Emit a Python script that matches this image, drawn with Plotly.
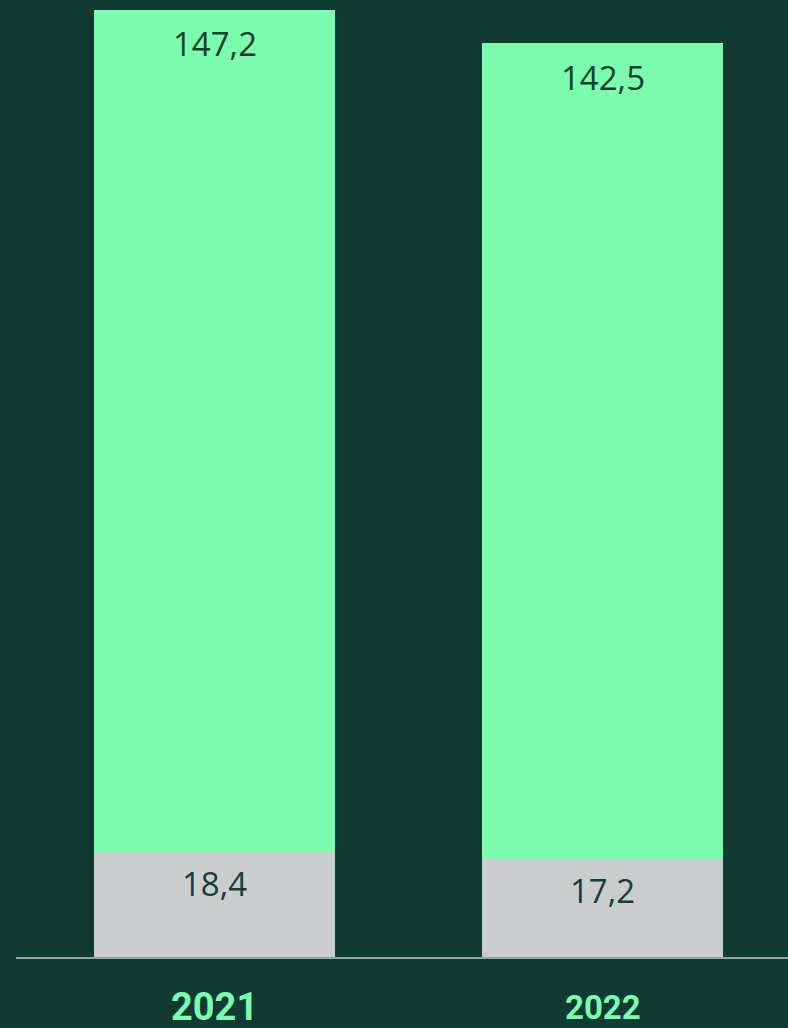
import plotly.graph_objects as go

years = ["2021", "2022"]
bottom_vals = [18.4, 17.2]
top_vals = [147.2, 142.5]
bottom_labels = ["18,4", "17,2"]
top_labels = ["147,2", "142,5"]
year_font_sizes = [38, 33]

BG = "#113a32"
GREEN = "#7afbae"
GREY = "#c9cdce"
TEXT = "#143d35"

fig = go.Figure()
fig.add_trace(go.Bar(x=years, y=bottom_vals, marker=dict(color=GREY, line=dict(width=0)),
                     width=0.62, hoverinfo="skip"))
fig.add_trace(go.Bar(x=years, y=top_vals, marker=dict(color=GREEN, line=dict(width=0)),
                     width=0.62, hoverinfo="skip"))

for i, yr in enumerate(years):
    fig.add_annotation(x=i, y=bottom_vals[i], xref="x", yref="y", text=bottom_labels[i],
                       showarrow=False, yanchor="middle", yshift=-32,
                       font=dict(family="Liberation Sans Narrow, Open Sans, sans-serif", size=33, color=TEXT))
    fig.add_annotation(x=i, y=bottom_vals[i] + top_vals[i], xref="x", yref="y", text=top_labels[i],
                       showarrow=False, yanchor="middle", yshift=-34,
                       font=dict(family="Open Sans, sans-serif", size=33, color=TEXT))
    fig.add_annotation(x=i, y=0, xref="x", yref="y", text="<b>" + yr + "</b>",
                       showarrow=False, yanchor="middle", yshift=-50,
                       font=dict(family="Liberation Sans Narrow, Roboto, sans-serif",
                                 size=year_font_sizes[i], color=GREEN))

fig.update_layout(
    barmode="stack",
    width=788, height=1028,
    paper_bgcolor=BG, plot_bgcolor=BG,
    margin=dict(l=16, r=0, t=0, b=71),
    showlegend=False,
    xaxis=dict(type="category", range=[-0.5116, 1.4781], showticklabels=False, showgrid=False,
               zeroline=False, showline=True, linecolor="#93a29e", linewidth=2, fixedrange=True),
    yaxis=dict(range=[0, 167.3], visible=False, showgrid=False, zeroline=False, fixedrange=True),
)

fig.write_html("out.html", config={"displayModeBar": False},
               post_script="document.body.style.margin='0';document.body.style.background='%s';" % BG)
